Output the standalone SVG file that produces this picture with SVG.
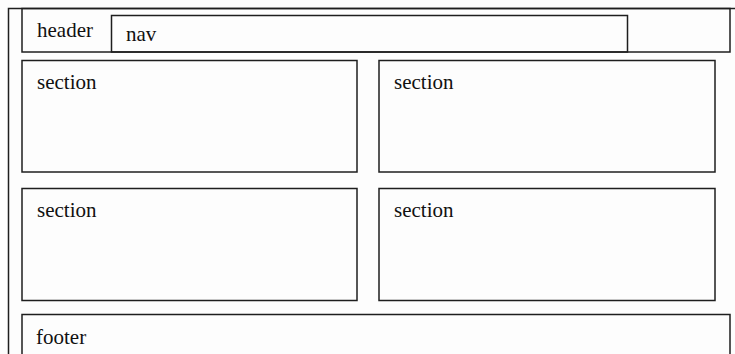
<svg xmlns="http://www.w3.org/2000/svg" width="735" height="354" viewBox="0 0 735 354">
  <style>
    .box { fill: none; stroke: #1e1e1e; stroke-width: 1.5; }
    .lbl { font-family: "Liberation Serif", "Times New Roman", serif; font-size: 21px; fill: #111; }
  </style>
  <rect width="735" height="354" fill="#fdfdfd"/>
  <!-- page frame -->
  <g id="page">
    <path class="box" d="M8.5 354 V8.5 H735"/>
  </g>
  <g id="header">
    <rect class="box" x="22" y="8.5" width="708" height="43.5"/>
    <text class="lbl" x="37" y="37">header</text>
  </g>
  <g id="nav">
    <rect class="box" x="111.5" y="15.5" width="516" height="36.5"/>
    <text class="lbl" x="126" y="41">nav</text>
  </g>
  <g id="section1">
    <rect class="box" x="22" y="60.5" width="335" height="111.5"/>
    <text class="lbl" x="37" y="89">section</text>
  </g>
  <g id="section2">
    <rect class="box" x="379" y="60.5" width="336" height="111.5"/>
    <text class="lbl" x="394" y="89">section</text>
  </g>
  <g id="section3">
    <rect class="box" x="22" y="188.5" width="335" height="112"/>
    <text class="lbl" x="37" y="217">section</text>
  </g>
  <g id="section4">
    <rect class="box" x="379" y="188.5" width="336" height="112"/>
    <text class="lbl" x="394" y="217">section</text>
  </g>
  <g id="footer">
    <path class="box" d="M22 360 V314.5 H730 V360"/>
    <text class="lbl" x="36" y="344">footer</text>
  </g>
  <g id="connectors"/>
</svg>
